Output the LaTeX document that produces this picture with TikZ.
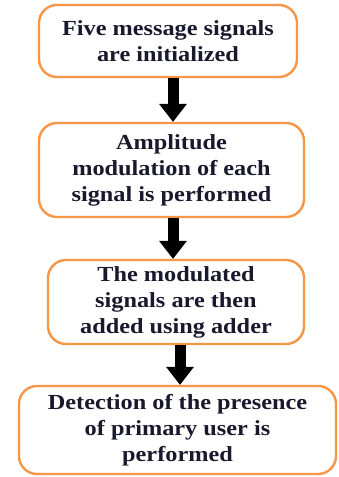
\documentclass[tikz,border=0pt]{standalone}
\usepackage{fontspec}
\setmainfont{Liberation Serif}[FakeStretch=1.13]
\usetikzlibrary{arrows.meta}
\definecolor{BoxOrange}{RGB}{247,150,70}
\definecolor{TextNavy}{RGB}{25,25,45}
\tikzset{
  stage node/.style={
    draw=BoxOrange,
    line width=2.4pt,
    rounded corners=18pt,
    fill=white,
    align=center,
    inner sep=0pt,
    font=\fontsize{21.5}{26}\selectfont\bfseries,
    text=TextNavy,
  },
  flow arrow/.style={line width=11pt,-{Triangle[width=28pt,length=18pt,line width=0pt]}},
}

\begin{document}
\begin{tikzpicture}[x=1pt,y=1pt]
\useasboundingbox (0,0) rectangle (338,477);

% Stages, top to bottom.
\node[stage node,minimum width=258pt,minimum height=72pt] (init) at (168,436) {Five message signals\\are initialized};
\node[stage node,minimum width=265pt,minimum height=94pt] (ampmod) at (171.5,307) {Amplitude\\modulation of each\\signal is performed};
\node[stage node,minimum width=256pt,minimum height=84pt] (adder) at (176,175) {The modulated\\signals are then\\added using adder};
\node[stage node,minimum width=317pt,minimum height=88pt] (detect) at (177.5,47) {Detection of the presence\\of primary user is\\performed};

\draw[flow arrow] ([xshift=5pt]init.south) -- ([xshift=1.5pt]ampmod.north);
\draw[flow arrow] ([xshift=1.5pt]ampmod.south) -- ([xshift=-3pt]adder.north);
\draw[flow arrow] ([xshift=4pt]adder.south) -- ([xshift=2.5pt]detect.north);

\end{tikzpicture}
\end{document}
